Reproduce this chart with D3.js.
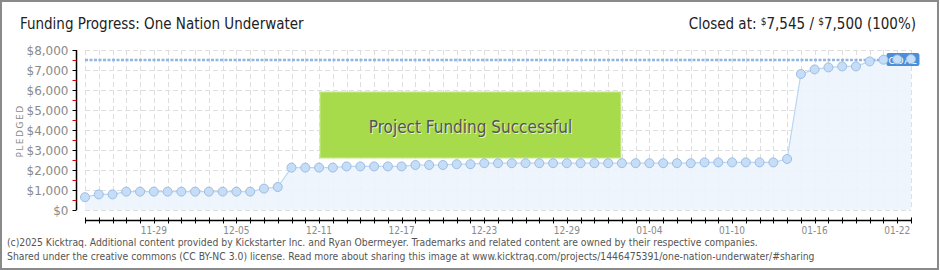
<!DOCTYPE html>
<html>
<head>
<meta charset="utf-8">
<script src="https://cdn.jsdelivr.net/npm/d3@7"></script>
<style>
  body { margin: 0; background: #fff; }
  text { font-family: "DejaVu Sans", sans-serif; }
  text.cond { font-family: "DejaVu Sans Condensed", "DejaVu Sans", sans-serif; }
</style>
</head>
<body>
<script>
var w = 940,
    h = 270;

// one value per day, 2024-11-24 .. 2025-01-23
var startDay = "2024-11-24",
    endDay = "2025-01-23";

var pledged = [
  640, 780, 780, 920, 920, 920, 920, 920, 920, 920,
  920, 920, 920, 1070, 1150, 2120, 2120, 2120, 2120, 2180,
  2180, 2180, 2180, 2180, 2250, 2250, 2250, 2290, 2290, 2340,
  2340, 2340, 2340, 2340, 2340, 2340, 2340, 2340, 2340, 2340,
  2340, 2340, 2340, 2340, 2340, 2380, 2380, 2380, 2380, 2380,
  2380, 2550, 6800, 7030, 7130, 7180, 7180, 7430, 7515, 7530,
  7545
];

var goal = 7500;
var yTicks = [0, 1000, 2000, 3000, 4000, 5000, 6000, 7000, 8000];
var yMinor = [500, 1500, 2500, 3500, 4500, 5500, 6500, 7500];
var xTickLabels = ["11-29", "12-05", "12-11", "12-17", "12-23", "12-29", "01-04", "01-10", "01-16", "01-22"];

var parse = d3.utcParse("%Y-%m-%d");
var days = d3.utcDay.range(parse(startDay), d3.utcDay.offset(parse(endDay), 1));
var data = days.map(function(d, i) { return {day: d, value: pledged[i]}; });

var x = d3.scaleUtc().domain([days[0], days[days.length - 1]]).range([85, 911]);
var y = d3.scaleLinear().domain([0, 8000]).range([210, 50]);
var fmt = d3.utcFormat("%m-%d");
var money = function(v) { return "$" + d3.format(",")(v); };

var svg = d3.select("body").append("svg").attr("width", w).attr("height", h);

// frame
svg.append("rect")
  .attr("x", 1).attr("y", 1).attr("width", w - 3).attr("height", h - 2)
  .attr("fill", "#fff").attr("stroke", "#8a8a8a").attr("stroke-width", 2);

// title
svg.append("text").attr("class", "cond")
  .attr("x", 20).attr("y", 29)
  .attr("font-size", 15).attr("fill", "#222")
  .text("Funding Progress: One Nation Underwater");

var closedText = svg.append("text").attr("class", "cond")
  .attr("x", 916).attr("y", 29)
  .attr("text-anchor", "end")
  .attr("font-size", 15).attr("fill", "#222");
closedText.append("tspan").text("Closed at: ");
closedText.append("tspan").attr("font-size", 10).attr("dy", -4).text("$");
closedText.append("tspan").attr("dy", 4).text("7,545 /  ");
closedText.append("tspan").attr("font-size", 10).attr("dy", -4).text("$");
closedText.append("tspan").attr("dy", 4).text("7,500 (100%)");

// grid
var grid = svg.append("g")
  .attr("stroke", "#dedede").attr("stroke-dasharray", "5,3").attr("stroke-width", 1);
grid.selectAll("line.v").data(days).enter().append("line")
  .attr("x1", function(d) { return Math.round(x(d)) + 0.5; })
  .attr("x2", function(d) { return Math.round(x(d)) + 0.5; })
  .attr("y1", y(8000)).attr("y2", y(0));
grid.selectAll("line.h").data(yTicks).enter().append("line")
  .attr("x1", x(days[0])).attr("x2", x(days[days.length - 1]))
  .attr("y1", function(d) { return y(d) + 0.5; })
  .attr("y2", function(d) { return y(d) + 0.5; });

// area + line
var area = d3.area()
  .x(function(d) { return x(d.day); })
  .y0(y(0))
  .y1(function(d) { return y(d.value); });
var line = d3.line()
  .x(function(d) { return x(d.day); })
  .y(function(d) { return y(d.value); });

svg.append("path").attr("d", area(data)).attr("fill", "#edf4fc").attr("opacity", 0.9);
svg.append("path").attr("d", line(data))
  .attr("fill", "none").attr("stroke", "#b9d6f4").attr("stroke-width", 1.2);

// goal line
svg.append("line")
  .attr("x1", x(days[0])).attr("x2", x(days[days.length - 1]))
  .attr("y1", y(goal)).attr("y2", y(goal))
  .attr("stroke", "#93b6de").attr("stroke-width", 2.5)
  .attr("stroke-dasharray", "3,1.5");

// success banner
var bx0 = x(days[17]) + 1, bx1 = x(days[39]) - 1;
svg.append("rect")
  .attr("x", bx0).attr("y", 92)
  .attr("width", bx1 - bx0).attr("height", 66)
  .attr("fill", "#a7db4c").attr("stroke", "#c6ea8a").attr("stroke-width", 1);
svg.append("text").attr("class", "cond")
  .attr("x", (bx0 + bx1) / 2 + 1).attr("y", 134)
  .attr("text-anchor", "middle").attr("font-size", 17)
  .attr("fill", "#fff").attr("opacity", 0.7)
  .text("Project Funding Successful");
svg.append("text").attr("class", "cond")
  .attr("x", (bx0 + bx1) / 2).attr("y", 133)
  .attr("text-anchor", "middle").attr("font-size", 17)
  .attr("fill", "#555")
  .text("Project Funding Successful");

// goal label
var gx = x(days[58]) + 3;
svg.append("rect")
  .attr("x", gx).attr("y", 53).attr("width", 33).attr("height", 13).attr("rx", 2)
  .attr("fill", "#4a8fd8");
svg.append("text")
  .attr("x", gx + 16.5).attr("y", 63.5)
  .attr("text-anchor", "middle").attr("font-size", 9)
  .attr("letter-spacing", 1).attr("fill", "#fff")
  .text("GOAL");

// points
svg.selectAll("circle.pt").data(data).enter().append("circle")
  .attr("cx", function(d) { return x(d.day); })
  .attr("cy", function(d) { return y(d.value); })
  .attr("r", 4.5)
  .attr("fill", "#c5ddf7").attr("stroke", "#9dbde3").attr("stroke-width", 1);

// y axis
var yAxis = svg.append("g").attr("transform", "translate(76.5,0)");
yAxis.append("line").attr("y1", y(8000)).attr("y2", y(0)).attr("stroke", "#000").attr("stroke-width", 1.5);
yAxis.selectAll("line.major").data(yTicks).enter().append("line")
  .attr("x1", -4).attr("x2", 0)
  .attr("y1", function(d) { return y(d) + 0.5; }).attr("y2", function(d) { return y(d) + 0.5; })
  .attr("stroke", "#000");
yAxis.selectAll("line.minor").data(yMinor).enter().append("line")
  .attr("x1", -4).attr("x2", 0)
  .attr("y1", function(d) { return y(d) + 0.5; }).attr("y2", function(d) { return y(d) + 0.5; })
  .attr("stroke", "#e00000");
yAxis.selectAll("text").data(yTicks).enter().append("text")
  .attr("x", -8).attr("y", function(d) { return y(d) + 4.5; })
  .attr("text-anchor", "end").attr("font-size", 12).attr("fill", "#8a8a8a")
  .text(money);

svg.append("text")
  .attr("transform", "translate(23,131) rotate(-90)")
  .attr("text-anchor", "middle").attr("font-size", 9)
  .attr("letter-spacing", 1.5).attr("fill", "#8a8a8a")
  .text("PLEDGED");

// x axis
var xAxis = svg.append("g").attr("transform", "translate(0,220.5)");
xAxis.append("line").attr("x1", x(days[0])).attr("x2", x(days[days.length - 1]))
  .attr("stroke", "#000").attr("stroke-width", 1.5);
xAxis.selectAll("line.tick").data(days).enter().append("line")
  .attr("x1", function(d) { return Math.round(x(d)) + 0.5; })
  .attr("x2", function(d) { return Math.round(x(d)) + 0.5; })
  .attr("y1", -3).attr("y2", 3)
  .attr("stroke", "#000");
xAxis.selectAll("text").data(days.filter(function(d) { return xTickLabels.indexOf(fmt(d)) >= 0; }))
  .enter().append("text").attr("class", "cond")
  .attr("x", function(d) { return x(d); }).attr("y", 13)
  .attr("text-anchor", "middle").attr("font-size", 10).attr("fill", "#8a8a8a")
  .text(fmt);

// footer
var footer = [
  "(c)2025 Kicktraq. Additional content provided by Kickstarter Inc. and Ryan Obermeyer. Trademarks and related content are owned by their respective companies.",
  "Shared under the creative commons (CC BY-NC 3.0) license. Read more about sharing this image at www.kicktraq.com/projects/1446475391/one-nation-underwater/#sharing"
];
svg.selectAll("text.foot").data(footer).enter().append("text").attr("class", "cond")
  .attr("x", 7).attr("y", function(d, i) { return 246 + i * 13.5; })
  .attr("font-size", 10.3).attr("fill", "#555")
  .text(function(d) { return d; });
</script>
</body>
</html>
